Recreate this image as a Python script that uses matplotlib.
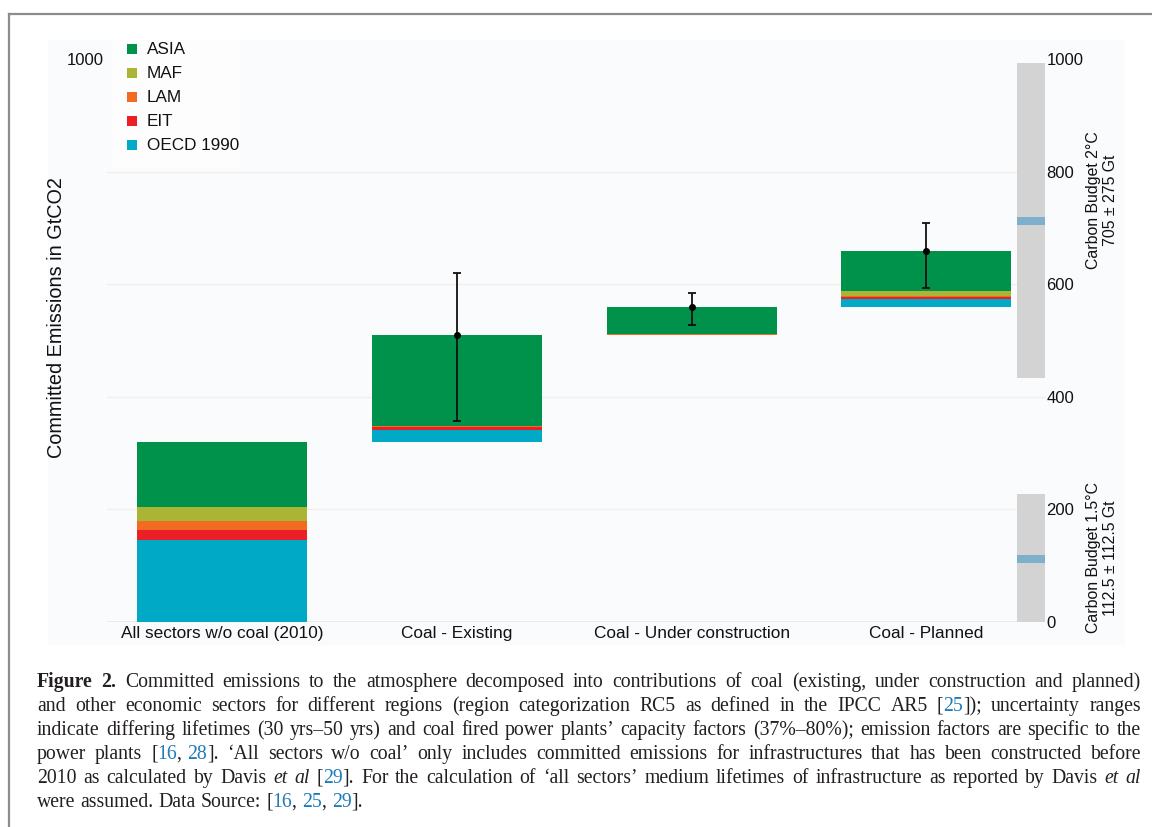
import re
import matplotlib
matplotlib.use("Agg")
import matplotlib.pyplot as plt
from matplotlib.patches import Rectangle
from matplotlib.lines import Line2D
import numpy as np

# ---------------- data ----------------
categories = ["All sectors w/o coal (2010)", "Coal - Existing",
              "Coal - Under construction", "Coal - Planned"]
regions = ["OECD 1990", "EIT", "LAM", "MAF", "ASIA"]          # stacking order, bottom -> top
region_colors = {"ASIA": "#00924a", "MAF": "#aab535", "LAM": "#f26b22",
                 "EIT": "#ec1f27", "OECD 1990": "#00a9c5"}
oecd = [145.6, 20.3, 1.2, 13.4]
eit = [17.7, 5.9, 0.3, 3.6]
lam = [16.0, 1.0, 0.3, 3.0]
maf = [24.7, 1.0, 1.2, 8.0]
asia = [116.5, 160.7, 47.5, 70.6]
values = {"OECD 1990": oecd, "EIT": eit, "LAM": lam, "MAF": maf, "ASIA": asia}

err_center = [np.nan, 509.5, 560.0, 658.6]
err_low = [np.nan, 357.0, 528.5, 594.0]
err_high = [np.nan, 620.0, 585.0, 709.6]

budget_labels = ["Carbon Budget 2°C\n705 ± 275 Gt", "Carbon Budget 1.5°C\n112.5 ± 112.5 Gt"]
budget_low = [434.0, 0.0]
budget_high = [994.0, 228.0]
budget_mid = [713.0, 112.0]
budget_label_y = [750.0, 114.0]

right_ticks = [0, 200, 400, 600, 800, 1000]
left_ticks = [1000]
grid_values = [200, 400, 600, 800]

NB = "\u00a0"
caption_lines = [
    "#Figure# #2.# Committed emissions to the atmosphere decomposed into contributions of coal (existing, under construction and planned)",
    "and other economic sectors for different regions (region categorization RC5 as defined in the IPCC AR5 [{25}]); uncertainty ranges",
    "indicate differing lifetimes (30 yrs\u201350 yrs) and coal fired power plants\u2019 capacity factors (37%\u201380%); emission factors are specific to the",
    "power plants [{16}," + NB + "{28}]. \u2018All sectors w/o coal\u2019 only includes committed emissions for infrastructures that has been constructed before",
    "2010 as calculated by Davis *et* *al* [{29}]. For the calculation of \u2018all sectors\u2019 medium lifetimes of infrastructure as reported by Davis *et* *al*",
    "were assumed. Data Source: [{16}," + NB + "{25}," + NB + "{29}].",
]

# ---------------- figure ----------------
W, H = 1152, 827
fig = plt.figure(figsize=(W / 100, H / 100), dpi=100)
fig.patch.set_facecolor("white")
plt.rcParams["font.family"] = ["Liberation Sans", "DejaVu Sans"]


def fx(x):
    return x / W


def fy(y):
    return 1 - y / H


# border
fig.add_artist(Line2D([fx(9), fx(9)], [fy(14), fy(H + 5)], color="#8c8c8c", lw=1.6))
fig.add_artist(Line2D([fx(9), fx(W + 5)], [fy(14), fy(14)], color="#8c8c8c", lw=1.6))
# faint panel
fig.add_artist(Rectangle((fx(48), fy(645)), fx(1125) - fx(48), fy(40) - fy(645),
                         transform=fig.transFigure, facecolor="#fafbfd", edgecolor="none", zorder=0))

ax_left, ax_right, ax_top, ax_bot = 107, 1045, 40, 622
ax = fig.add_axes([fx(ax_left), fy(ax_bot), fx(ax_right) - fx(ax_left), fy(ax_top) - fy(ax_bot)])
ax.set_facecolor("none")
px_per_unit = (622 - 59.3) / 1000
ax.set_ylim(0, (ax_bot - ax_top) / px_per_unit)
spacing = 234.8
ax.set_xlim((ax_left - 222) / spacing, (ax_right - 222) / spacing)
for s in ax.spines.values():
    s.set_visible(False)

for g in grid_values:
    ax.axhline(g, color="#f5eee8", lw=1.0, zorder=0)
ax.axhline(0, color="#9fb0b4", lw=1.0, zorder=1)

x = np.arange(len(categories))
bar_w = 170 / spacing
totals = np.zeros(len(categories))
for r in regions:
    totals += np.array(values[r])
base = np.concatenate([[0], np.cumsum(totals)[:-1]])
bottom = base.copy()
for r in regions:
    v = np.array(values[r])
    ax.bar(x, v, bottom=bottom, width=bar_w, color=region_colors[r],
           edgecolor="none", zorder=2)
    bottom += v

ec = np.array(err_center)
yerr = [ec - np.array(err_low), np.array(err_high) - ec]
ax.errorbar(x, ec, yerr=yerr, fmt="o", ms=4, color="black", ecolor="#111111",
            elinewidth=1.3, capsize=3, capthick=1.3, zorder=4)

# carbon budget bars
bx = (1031 - 222) / spacing
bw = 28 / spacing
for lo, hi, mid, lab, ly in zip(budget_low, budget_high, budget_mid, budget_labels, budget_label_y):
    ax.bar(bx, hi - lo, bottom=lo, width=bw, color="#d3d3d3", edgecolor="none", zorder=2)
    ax.bar(bx, 14, bottom=mid - 7, width=bw, color="#7eb0cb", edgecolor="none", zorder=3)
    fig.text(fx(1102), fy(622 - ly * px_per_unit), lab, rotation=90, ha="center", va="center",
             fontsize=11.4, linespacing=1.2, color="#111111")

# axis ticks
ax.set_xticks(x)
ax.set_xticklabels(categories, fontsize=12.4, color="#111111")
ax.tick_params(axis="x", length=0, pad=3)
ax.set_yticks(left_ticks)
ax.set_yticklabels([str(t) for t in left_ticks], fontsize=12, color="#111111")
ax.tick_params(axis="y", length=0, pad=2)
ax2 = ax.twinx()
ax2.set_ylim(ax.get_ylim())
for s in ax2.spines.values():
    s.set_visible(False)
ax2.set_yticks(right_ticks)
ax2.set_yticklabels([str(t) for t in right_ticks], fontsize=12, color="#111111")
ax2.tick_params(axis="y", length=0, pad=1)

fig.text(fx(57), fy(318), "Committed Emissions in GtCO2", rotation=90, ha="center", va="center",
         fontsize=14.3, color="#111111")

# legend (top -> bottom)
legend_order = ["ASIA", "MAF", "LAM", "EIT", "OECD 1990"]
fig.add_artist(Rectangle((fx(112), fy(168)), fx(240) - fx(112), fy(40) - fy(168),
                         transform=fig.transFigure, facecolor="#fdfdfe", edgecolor="none", zorder=1))
for i, r in enumerate(legend_order):
    yc = 49 + i * 24
    fig.add_artist(Rectangle((fx(127), fy(yc + 5)), fx(10), fy(0) - fy(10),
                             transform=fig.transFigure, facecolor=region_colors[r],
                             edgecolor="none", zorder=2))
    fig.text(fx(147), fy(yc), r, ha="left", va="center", fontsize=12.3, color="#111111", zorder=3)

# ---------------- caption (justified) ----------------
renderer = fig.canvas.get_renderer()
cap_font = ["Liberation Serif", "DejaVu Serif"]
ink = "#231f20"
blue = "#1f7ab8"


def parse_word(w):
    segs = []
    for m in re.finditer(r"\{([^}]*)\}|\*([^*]*)\*|#([^#]*)#|([^{*#]+)", w):
        if m.group(1) is not None:
            segs.append((m.group(1), blue, "normal", "normal"))
        elif m.group(2) is not None:
            segs.append((m.group(2), ink, "italic", "normal"))
        elif m.group(3) is not None:
            segs.append((m.group(3), ink, "normal", "bold"))
        else:
            segs.append((m.group(4), ink, "normal", "normal"))
    return [s for s in segs if s[0]]


def measure(s, style, weight, size):
    t = fig.text(0, 0, s.replace(NB, " "), family=cap_font, fontsize=size, style=style, weight=weight)
    w = t.get_window_extent(renderer).width
    t.remove()
    return w


cap_left, cap_right = 37, 1141
target = cap_right - cap_left
parsed = [[parse_word(w) for w in line.split(" ")] for line in caption_lines]


def line_natural(words, size):
    widths = [[measure(s[0], s[2], s[3], size) for s in w] for w in words]
    sp = measure("a a", "normal", "normal", size) - measure("aa", "normal", "normal", size)
    word_w = [sum(ws) for ws in widths]
    return widths, word_w, sp, sum(word_w) + 0.85 * sp * (len(words) - 1)


# one common size: the largest that lets every justified line fit
size = 14.2
while size > 10:
    ok = all(line_natural(words, size)[3] <= target for words in parsed[:-1])
    if ok:
        break
    size -= 0.1

for li, words in enumerate(parsed):
    widths, word_w, sp, _ = line_natural(words, size)
    justify = li < len(parsed) - 1
    gap = (target - sum(word_w)) / (len(words) - 1) if justify else sp
    xpos = cap_left
    ybase = 687 + li * 24
    for w, ws in zip(words, widths):
        xx = xpos
        for (txt, col, style, weight), wd in zip(w, ws):
            fig.text(fx(xx), fy(ybase), txt.replace(NB, " "), family=cap_font, fontsize=size,
                     style=style, weight=weight, color=col, ha="left", va="baseline")
            xx += wd
        xpos += sum(ws) + gap

fig.savefig("out.png", dpi=100, facecolor="white")
